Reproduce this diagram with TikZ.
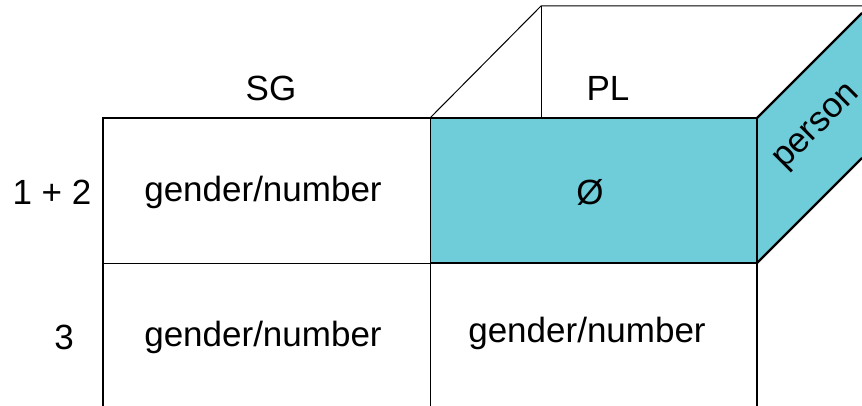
\documentclass[tikz,border=0pt]{standalone}
\usepackage{fontspec}
\setmainfont{Liberation Sans}
\definecolor{cyanfill}{RGB}{111,204,217}
\begin{document}
\begin{tikzpicture}[x=1pt,y=-1pt,
  thickline/.style={line width=2.2pt},
  thinline/.style={line width=1pt},
  lbl/.style={font=\fontsize{35}{40}\selectfont, inner sep=0pt, anchor=center}]
\useasboundingbox (0,0) rectangle (862,406);
% cyan faces
\fill[cyanfill] (430,118) rectangle (757,263);
\fill[cyanfill] (757,118) -- (862,13) -- (862,158) -- (757,263) -- cycle;
% back top box (thin)
\draw[thinline] (430,118) -- (541,6) -- (862,6);
\draw[thinline] (541,6) -- (541,118);
% inner grid lines (thin)
\draw[thinline] (430,118) -- (430,406);
\draw[thinline] (103,263) -- (430,263);
% thick lines
\draw[thickline] (103,406) -- (103,118) -- (757,118);
\draw[thickline] (757,118) -- (757,406);
\draw[thickline] (430,263) -- (757,263);
\draw[thickline] (757,118) -- (862,13);
\draw[thickline] (757,263) -- (862,158);
% labels
\node[lbl] (sg) at (271,88) {SG};
\node[lbl] (pl) at (608,88) {PL};
\node[lbl] (r1) at (52,192) {1 + 2};
\node[lbl] (r3) at (64,337) {3};
\node[lbl] (c11) at (263,192) {gender/number};
\node[lbl] (c12) at (590,192) {Ø};
\node[lbl] (c21) at (263,337) {gender/number};
\node[lbl] (c22) at (587,333) {gender/number};
\node[lbl, rotate=45] (pers) at (818,128) {person};
\end{tikzpicture}
\end{document}
